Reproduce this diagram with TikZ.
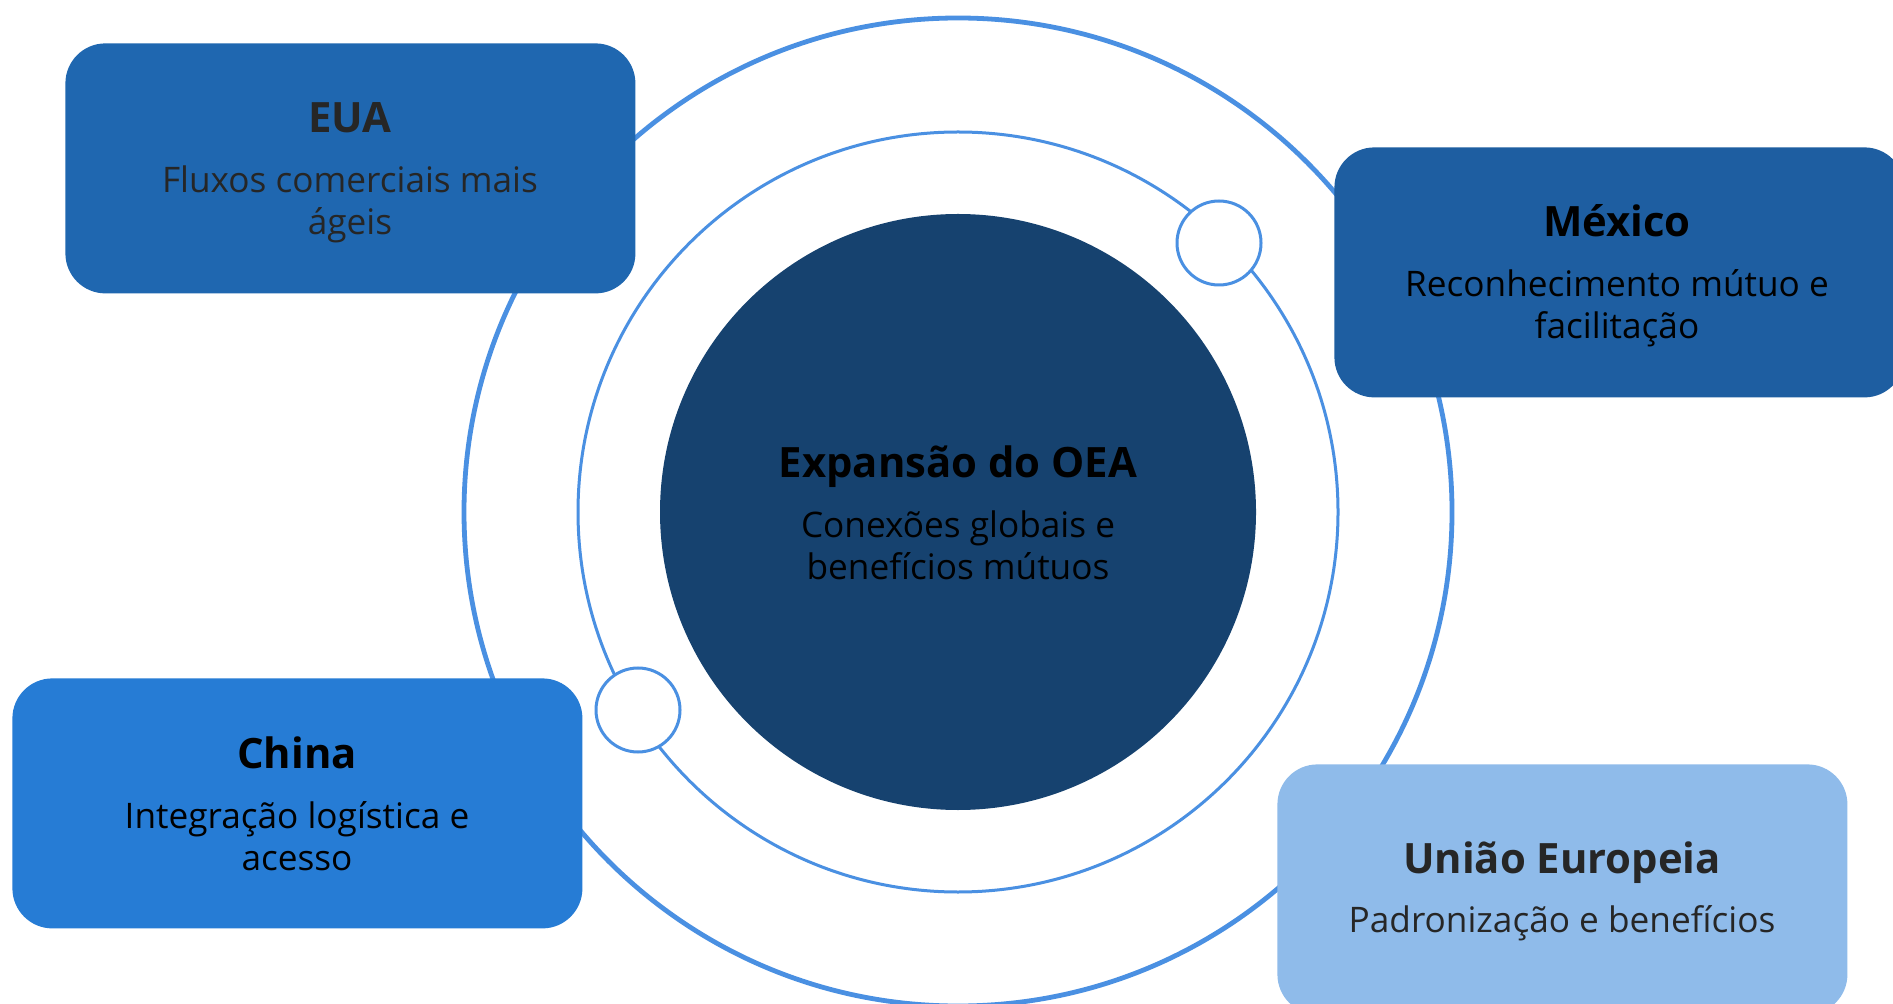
\documentclass[tikz,border=0pt]{standalone}
\usepackage{fontspec}
\setmainfont{Open Sans}
\definecolor{ringc}{HTML}{4A90E2}
\definecolor{corec}{HTML}{16426F}
\definecolor{euac}{HTML}{1F67B0}
\definecolor{mexc}{HTML}{1E5EA1}
\definecolor{chnc}{HTML}{267CD5}
\definecolor{uec}{HTML}{8FBBEA}
\definecolor{dark}{HTML}{262626}
\begin{document}
\begin{tikzpicture}[x=0.5pt,y=-0.5pt,
  card/.style={rounded corners=20pt, minimum width=285pt, minimum height=125pt,
    anchor=north west, inner sep=0pt},
  ttl/.style={anchor=base, inner sep=0pt, font=\bfseries\fontsize{20.9}{24}\selectfont},
  sub/.style={anchor=base, inner sep=0pt, font=\fontsize{17.6}{20}\selectfont},
  dot/.style={circle, draw=ringc, line width=1.5pt, fill=white, minimum size=42pt, inner sep=0pt}]
\useasboundingbox (0,0) rectangle (1893,1004);
\clip (0,0) rectangle (1893,1004);
\fill[white] (0,0) rectangle (1893,1004);
% rings and core
\coordinate (c) at (958,512);
\draw[ringc, line width=2.4pt] (c) circle[radius=247pt];
\draw[ringc, line width=1.5pt] (c) circle[radius=190pt];
\fill[corec] (c) circle[radius=149pt];
% cards
\node[card, fill=euac] (eua) at (65,43) {};
\node[card, fill=mexc] (mex) at (1334,147) {};
\node[card, fill=chnc] (chn) at (12,678) {};
\node[card, fill=uec] (ue) at (1277,764) {};
% dots on the middle ring
\node[dot] (d1) at (1219,243) {};
\node[dot] (d2) at (638,710) {};
% texts
\node[ttl, text=black] (coreT) at (958,478) {Expansão do OEA};
\node[sub, text=black] (coreS1) at (958,538) {Conexões globais e};
\node[sub, text=black] (coreS2) at (958,580) {benefícios mútuos};
\node[ttl, text=dark] (euaT) at (350,133) {EUA};
\node[sub, text=dark] (euaS1) at (350,193) {Fluxos comerciais mais};
\node[sub, text=dark] (euaS2) at (350,235) {ágeis};
\node[ttl, text=black] (mexT) at (1617,237) {México};
\node[sub, text=black] (mexS1) at (1617,297) {Reconhecimento mútuo e};
\node[sub, text=black] (mexS2) at (1617,339) {facilitação};
\node[ttl, text=black] (chnT) at (297,768) {China};
\node[sub, text=black] (chnS1) at (297,828) {Integração logística e};
\node[sub, text=black] (chnS2) at (297,870) {acesso};
\node[ttl, text=dark] (ueT) at (1562,873) {União Europeia};
\node[sub, text=dark] (ueS) at (1562,932) {Padronização e benefícios};
\end{tikzpicture}
\end{document}
